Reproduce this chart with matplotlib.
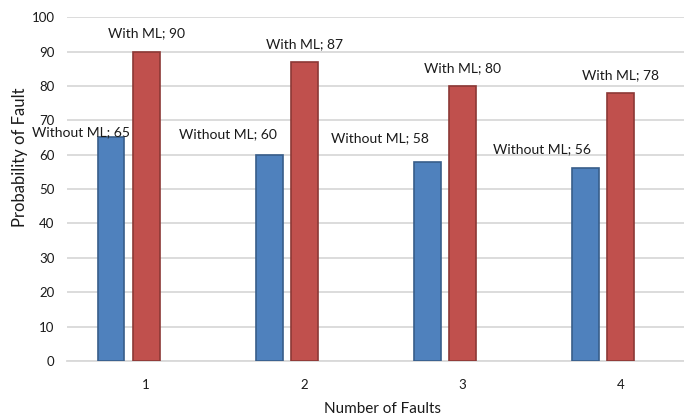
import matplotlib
matplotlib.use("Agg")
import matplotlib.pyplot as plt
import numpy as np

categories = ["1", "2", "3", "4"]
without_ml = [65, 60, 58, 56]
with_ml = [90, 87, 80, 78]
series_names = ["Without ML", "With ML"]

# label layout (data-x of label centre, offset in points above bar top)
without_label_x = [0.59, 1.52, 2.48, 3.50]
without_label_dy = [4, 15, 17, 14]
with_label_dy = [13, 13, 13, 13]

plt.rcParams['font.family'] = ['Lato', 'DejaVu Sans']

fig = plt.figure(figsize=(6.84, 4.18), dpi=100)
ax = fig.add_axes([0.098, 0.1364, 0.902, 0.8226])

x = np.arange(1, len(categories) + 1)
w = 0.17
blue_off = -0.222

ax.bar(x + blue_off, without_ml, width=w, color="#4F81BD", edgecolor="#385D8A",
       linewidth=1.2, zorder=3)
ax.bar(x, with_ml, width=w, color="#C0504D", edgecolor="#8C3836",
       linewidth=1.2, zorder=3)

for i in range(len(categories)):
    ax.annotate(f"{series_names[0]}; {without_ml[i]}",
                xy=(without_label_x[i], without_ml[i]),
                xytext=(0, without_label_dy[i]), textcoords="offset points",
                ha="center", va="center", fontsize=10, color="#1a1a1a", zorder=5)
    ax.annotate(f"{series_names[1]}; {with_ml[i]}",
                xy=(x[i], with_ml[i]),
                xytext=(0, with_label_dy[i]), textcoords="offset points",
                ha="center", va="center", fontsize=10, color="#1a1a1a", zorder=5)

ax.set_ylim(0, 100)
ax.set_xlim(0.5, 4.40)
ax.set_yticks(np.arange(0, 101, 10))
ax.set_xticks(x)
ax.set_xticklabels(categories)
ax.yaxis.grid(True, color="#D9D9D9", linewidth=1.3, zorder=0)
ax.set_axisbelow(True)
for s in ["top", "right", "left"]:
    ax.spines[s].set_visible(False)
ax.spines["bottom"].set_color("#D9D9D9")
ax.spines["bottom"].set_linewidth(1.3)
ax.tick_params(axis="both", length=0, labelsize=9.5, colors="#1a1a1a")
ax.tick_params(axis="y", pad=9)
ax.tick_params(axis="x", pad=13)

ax.set_ylabel("Probability of Fault", fontsize=12, color="#1a1a1a")
ax.yaxis.set_label_coords(-0.064, 0.593)
ax.set_xlabel("Number of Faults", fontsize=11, color="#1a1a1a")
ax.xaxis.set_label_coords(0.511, -0.12)

fig.savefig("out.png", dpi=100)
